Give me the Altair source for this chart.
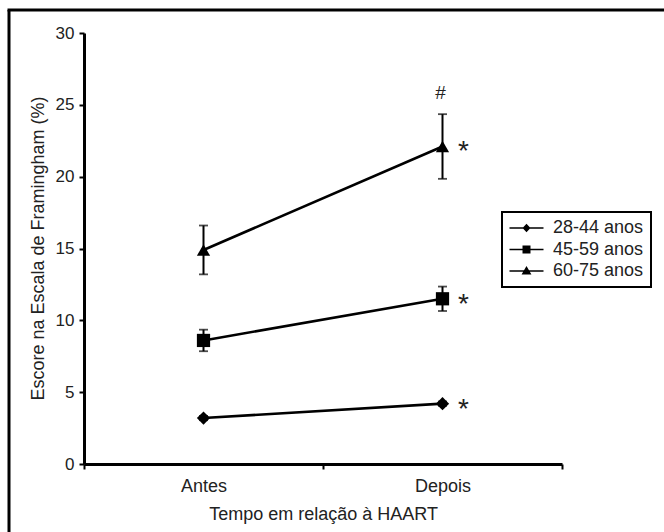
import altair as alt
import pandas as pd

# ---- data ----
groups = ["28-44 anos", "45-59 anos", "60-75 anos"]
times = ["Antes", "Depois"]
time_pos = [1, 2]
means = {
    "28-44 anos": [3.2, 4.2],
    "45-59 anos": [8.6, 11.5],
    "60-75 anos": [14.9, 22.1],
}
errors = {
    "28-44 anos": [0.15, 0.15],
    "45-59 anos": [0.75, 0.85],
    "60-75 anos": [1.7, 2.25],
}
star_text = ["*", "*", "*"]
hash_text = ["#"]
hash_value = [25.4]
y_ticks = [0, 5, 10, 15, 20, 25, 30]
x_ticks = [0.5, 1, 1.5, 2, 2.5]

rows = []
for g in groups:
    for i, t in enumerate(time_pos):
        m = means[g][i]
        e = errors[g][i]
        rows.append({"group": g, "t": t, "mean": m, "lo": m - e, "hi": m + e})
df = pd.DataFrame(rows)

star_df = pd.DataFrame({
    "group": groups,
    "t": [time_pos[1]] * len(groups),
    "mean": [means[g][1] for g in groups],
    "label": star_text,
})
hash_df = pd.DataFrame({"t": [time_pos[1]], "mean": hash_value, "label": hash_text})
frame_df = pd.DataFrame({"k": [0]})

FONT = "Liberation Sans"
TXT = "#222222"

label_expr = " : ".join(
    [f"datum.value == {p} ? '{n}'" for p, n in zip(time_pos, times)]
) + " : ''"

x_enc = alt.X(
    "t:Q",
    scale=alt.Scale(domain=[0.5, 2.5], nice=False, zero=False),
    axis=alt.Axis(
        values=x_ticks,
        labelExpr=label_expr,
        title="Tempo em relação à HAART",
        grid=False,
        tickSize=5,
        tickWidth=2,
        tickColor="black",
        tickOpacity={"condition": {"test": "datum.value == 1 || datum.value == 2", "value": 0}, "value": 1},
        domainColor="black",
        domainWidth=3,
        labelFont=FONT,
        labelFontSize=18,
        labelColor=TXT,
        labelBaseline="alphabetic",
        labelPadding=22,
        labelFlush=False,
        labelOverlap=False,
        titleFont=FONT,
        titleFontSize=18,
        titleFontWeight="normal",
        titleColor=TXT,
        titleBaseline="alphabetic",
        titleY=55,
    ),
)
y_enc = alt.Y(
    "mean:Q",
    scale=alt.Scale(domain=[0, 30], nice=False),
    axis=alt.Axis(
        values=y_ticks,
        title="Escore na Escala de Framingham (%)",
        grid=False,
        tickSize=5,
        tickWidth=2,
        tickColor="black",
        domainColor="black",
        domainWidth=3,
        labelFont=FONT,
        labelFontSize=17,
        labelColor=TXT,
        labelPadding=5,
        titleFont=FONT,
        titleFontSize=18,
        titleFontWeight="normal",
        titleColor=TXT,
        titleBaseline="alphabetic",
        titleAngle=-90,
        titleX=-41,
        titleY=215,
    ),
)

base = alt.Chart(df)

lines = base.mark_line(color="black", strokeWidth=2.6).encode(
    x=x_enc, y=y_enc, detail="group:N"
)

err_rule = base.mark_rule(color="black", strokeWidth=2).encode(
    x="t:Q", y="lo:Q", y2="hi:Q"
)
cap_lo = base.mark_tick(color="black", orient="horizontal", size=9, thickness=1.8).encode(
    x="t:Q", y="lo:Q"
)
cap_hi = base.mark_tick(color="black", orient="horizontal", size=9, thickness=1.8).encode(
    x="t:Q", y="hi:Q"
)

points = base.mark_point(filled=True, color="black", size=175, opacity=1).encode(
    x="t:Q",
    y="mean:Q",
    shape=alt.Shape(
        "group:N",
        scale=alt.Scale(domain=groups, range=["diamond", "square", "triangle-up"]),
        legend=None,
    ),
)

line_seg = "M-1,-0.1L3,-0.1L3,0.1L-1,0.1Z"
legend_paths = [
    line_seg + " M1,-0.5L1.47,0L1,0.5L0.53,0Z",
    line_seg + " M0.53,-0.47L1.47,-0.47L1.47,0.47L0.53,0.47Z",
    line_seg + " M1,-0.6L1.58,0.42L0.42,0.42Z",
]

legend_layer = base.mark_point(filled=True, color="black", size=0).encode(
    x="t:Q",
    y="mean:Q",
    shape=alt.Shape(
        "group:N",
        scale=alt.Scale(domain=groups, range=legend_paths),
        legend=alt.Legend(
            title=None,
            orient="none",
            legendX=418,
            legendY=179,
            padding=7,
            rowPadding=3.5,
            strokeColor="black",
            symbolSize=289,
            symbolFillColor="black",
            symbolStrokeColor="black",
            symbolStrokeWidth=0,
            symbolOpacity=1,
            labelOffset=26,
            labelFont=FONT,
            labelFontSize=18,
            labelColor=TXT,
        ),
    ),
)

stars = alt.Chart(star_df).mark_text(
    font=FONT, fontSize=28, color=TXT, align="center", baseline="alphabetic", dx=21, dy=14
).encode(x="t:Q", y="mean:Q", text="label:N")

hashes = alt.Chart(hash_df).mark_text(
    font=FONT, fontSize=19, color=TXT, align="center", baseline="alphabetic", dx=-2
).encode(x="t:Q", y="mean:Q", text="label:N")

frame_left = alt.Chart(frame_df).mark_rule(color="black", strokeWidth=3).encode(
    x=alt.value(-75), y=alt.value(-23), y2=alt.value(520)
)
frame_top = alt.Chart(frame_df).mark_rule(color="black", strokeWidth=3).encode(
    x=alt.value(-76.5), x2=alt.value(600), y=alt.value(-23)
)

chart = (
    alt.layer(lines, err_rule, cap_lo, cap_hi, points, legend_layer, stars, hashes, frame_left, frame_top)
    .resolve_scale(shape="independent")
    .properties(
        width=478,
        height=431,
        padding={"left": 84, "top": 33, "right": 102, "bottom": 68},
        autosize=alt.AutoSizeParams(type="none"),
        background="white",
    )
    .configure_view(stroke=None)
    .configure_legend(strokeWidth=2)
)

chart.save("out.html", embed_options={"renderer": "svg", "actions": False})
